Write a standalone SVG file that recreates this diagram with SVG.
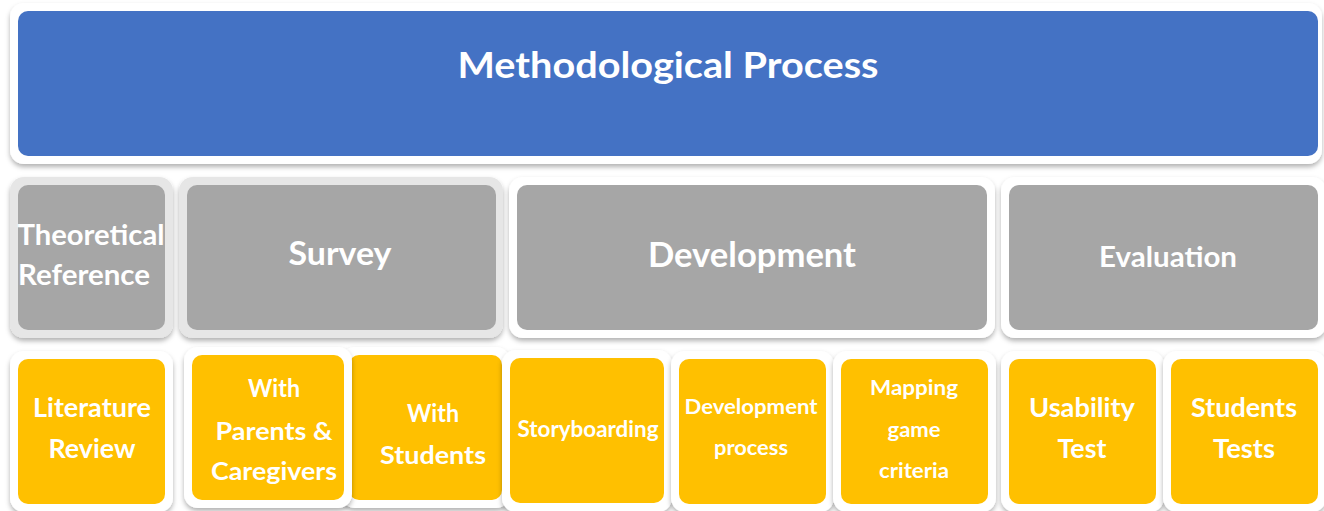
<svg xmlns="http://www.w3.org/2000/svg" width="1324" height="511" viewBox="0 0 1324 511">
<defs>
<filter id="sh" x="-10%" y="-10%" width="120%" height="130%">
<feDropShadow dx="0" dy="3" stdDeviation="2.5" flood-color="#000" flood-opacity="0.3"/>
</filter>
<style>
.fw{fill:#ffffff;filter:url(#sh)}
.fg{fill:#e6e6e6;filter:url(#sh)}
.blue{fill:#4472c4}
.gray{fill:#a6a6a6}
.yel{fill:#ffc000}
text{font-family:Lato,"Open Sans","Liberation Sans",sans-serif;font-weight:700;fill:#ffffff;text-anchor:middle}
</style>
</defs>
<rect width="1324" height="511" fill="#ffffff"/>
<g id="methodological-process">
<rect class="fw" x="10" y="3" width="1312" height="161" rx="14"/>
<rect class="blue" x="18" y="11" width="1300" height="145" rx="10"/>
<text x="668" y="78" font-size="37" textLength="421" lengthAdjust="spacingAndGlyphs">Methodological Process</text>
</g>
<g id="theoretical-reference">
<rect class="fg" x="10" y="177" width="163" height="161" rx="14"/>
<rect class="gray" x="18" y="185" width="147" height="145" rx="10"/>
<text x="91" y="245" font-size="29" textLength="147" lengthAdjust="spacingAndGlyphs">Theoretical</text>
<text x="84" y="285" font-size="29" textLength="132" lengthAdjust="spacingAndGlyphs">Reference</text>
</g>
<g id="survey">
<rect class="fg" x="179" y="177" width="324" height="161" rx="14"/>
<rect class="gray" x="187" y="185" width="309" height="145" rx="10"/>
<text x="340" y="265" font-size="32" textLength="103" lengthAdjust="spacingAndGlyphs">Survey</text>
</g>
<g id="development">
<rect class="fw" x="509" y="177" width="486" height="161" rx="14"/>
<rect class="gray" x="517" y="185" width="470" height="145" rx="10"/>
<text x="752" y="267" font-size="34" textLength="208" lengthAdjust="spacingAndGlyphs">Development</text>
</g>
<g id="evaluation">
<rect class="fw" x="1001" y="177" width="325" height="161" rx="14"/>
<rect class="gray" x="1009" y="185" width="309" height="145" rx="10"/>
<text x="1168" y="267" font-size="28" textLength="138" lengthAdjust="spacingAndGlyphs">Evaluation</text>
</g>
<g id="literature-review">
<rect class="fw" x="10" y="351" width="163" height="161" rx="14"/>
<rect class="yel" x="18" y="359" width="147" height="145" rx="10"/>
<text x="92" y="417" font-size="26" textLength="118" lengthAdjust="spacingAndGlyphs">Literature</text>
<text x="92" y="458" font-size="26" textLength="87" lengthAdjust="spacingAndGlyphs">Review</text>
</g>
<g id="with-students">
<rect class="fw" x="341" y="347" width="169" height="161" rx="14"/>
<rect class="yel" x="349" y="355" width="153" height="145" rx="10"/>
<text x="433" y="422" font-size="25" textLength="52" lengthAdjust="spacingAndGlyphs">With</text>
<text x="433" y="464" font-size="25" textLength="106" lengthAdjust="spacingAndGlyphs">Students</text>
</g>
<g id="with-parents-caregivers">
<rect class="fw" x="184" y="347" width="168" height="161" rx="14"/>
<rect class="yel" x="192" y="355" width="152" height="145" rx="10"/>
<text x="274" y="397" font-size="25" textLength="52" lengthAdjust="spacingAndGlyphs">With</text>
<text x="274" y="440" font-size="25" textLength="117" lengthAdjust="spacingAndGlyphs">Parents &amp;</text>
<text x="274" y="480" font-size="25" textLength="126" lengthAdjust="spacingAndGlyphs">Caregivers</text>
</g>
<g id="storyboarding">
<rect class="fw" x="502" y="350" width="170" height="162" rx="14"/>
<rect class="yel" x="510" y="358" width="154" height="145" rx="10"/>
<text x="588" y="437" font-size="22" textLength="141" lengthAdjust="spacingAndGlyphs">Storyboarding</text>
</g>
<g id="development-process">
<rect class="fw" x="671" y="351" width="163" height="161" rx="14"/>
<rect class="yel" x="679" y="359" width="147" height="145" rx="10"/>
<text x="751" y="414" font-size="21" textLength="133" lengthAdjust="spacingAndGlyphs">Development</text>
<text x="751" y="455" font-size="21" textLength="74" lengthAdjust="spacingAndGlyphs">process</text>
</g>
<g id="mapping-game-criteria">
<rect class="fw" x="833" y="351" width="163" height="161" rx="14"/>
<rect class="yel" x="841" y="359" width="147" height="145" rx="10"/>
<text x="914" y="395" font-size="21" textLength="88" lengthAdjust="spacingAndGlyphs">Mapping</text>
<text x="914" y="437" font-size="21" textLength="53" lengthAdjust="spacingAndGlyphs">game</text>
<text x="914" y="478" font-size="21" textLength="70" lengthAdjust="spacingAndGlyphs">criteria</text>
</g>
<g id="usability-test">
<rect class="fw" x="1001" y="351" width="163" height="161" rx="14"/>
<rect class="yel" x="1009" y="359" width="147" height="145" rx="10"/>
<text x="1082" y="417" font-size="26" textLength="106" lengthAdjust="spacingAndGlyphs">Usability</text>
<text x="1082" y="458" font-size="26" textLength="49" lengthAdjust="spacingAndGlyphs">Test</text>
</g>
<g id="students-tests">
<rect class="fw" x="1163" y="351" width="163" height="161" rx="14"/>
<rect class="yel" x="1171" y="359" width="147" height="145" rx="10"/>
<text x="1244" y="417" font-size="26" textLength="106" lengthAdjust="spacingAndGlyphs">Students</text>
<text x="1244" y="458" font-size="26" textLength="62" lengthAdjust="spacingAndGlyphs">Tests</text>
</g>
<g id="connectors"/>
</svg>
